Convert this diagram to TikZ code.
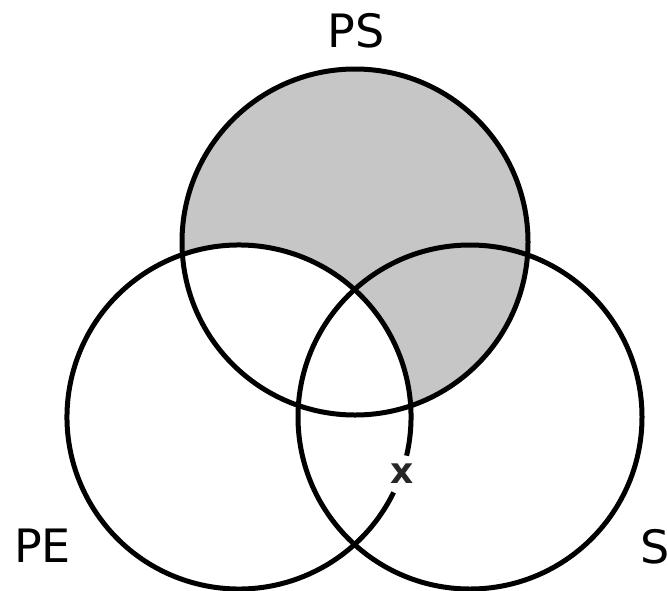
\documentclass[tikz,border=0pt]{standalone}
\usepackage{fontspec}
\setmainfont{DejaVu Sans}
\begin{document}
\begin{tikzpicture}[x=1pt,y=1pt,
  ring/.style={line width=5pt,draw=black},
  lab/.style={font=\fontsize{46}{50}\selectfont,inner sep=0pt,text=black},
  mark x/.style={font=\fontsize{36}{38}\selectfont\bfseries,inner sep=0pt,text=black!85}]
\useasboundingbox (0,0) rectangle (668,-590);
\coordinate (T) at (355,-242);
\coordinate (L) at (239,-417);
\coordinate (R) at (470,-417);
% shading: PS minus PE
\fill[gray!45] (T) circle (173pt);
\fill[white] (L) circle (172pt);
% outlines
\draw[ring] (T) circle (173pt);
\draw[ring] (R) circle (172pt);
\draw[ring] (L) ++(-13:172pt) arc[start angle=-13,end angle=334,radius=172pt];
% labels
\node[lab,anchor=base] (ps) at (356,-47) {PS};
\node[lab,anchor=base west] (pe) at (14,-562) {PE};
\node[lab,anchor=base west] (s) at (640,-563) {S};
\node[mark x,anchor=base] (x) at (402,-483) {x};
\end{tikzpicture}
\end{document}
